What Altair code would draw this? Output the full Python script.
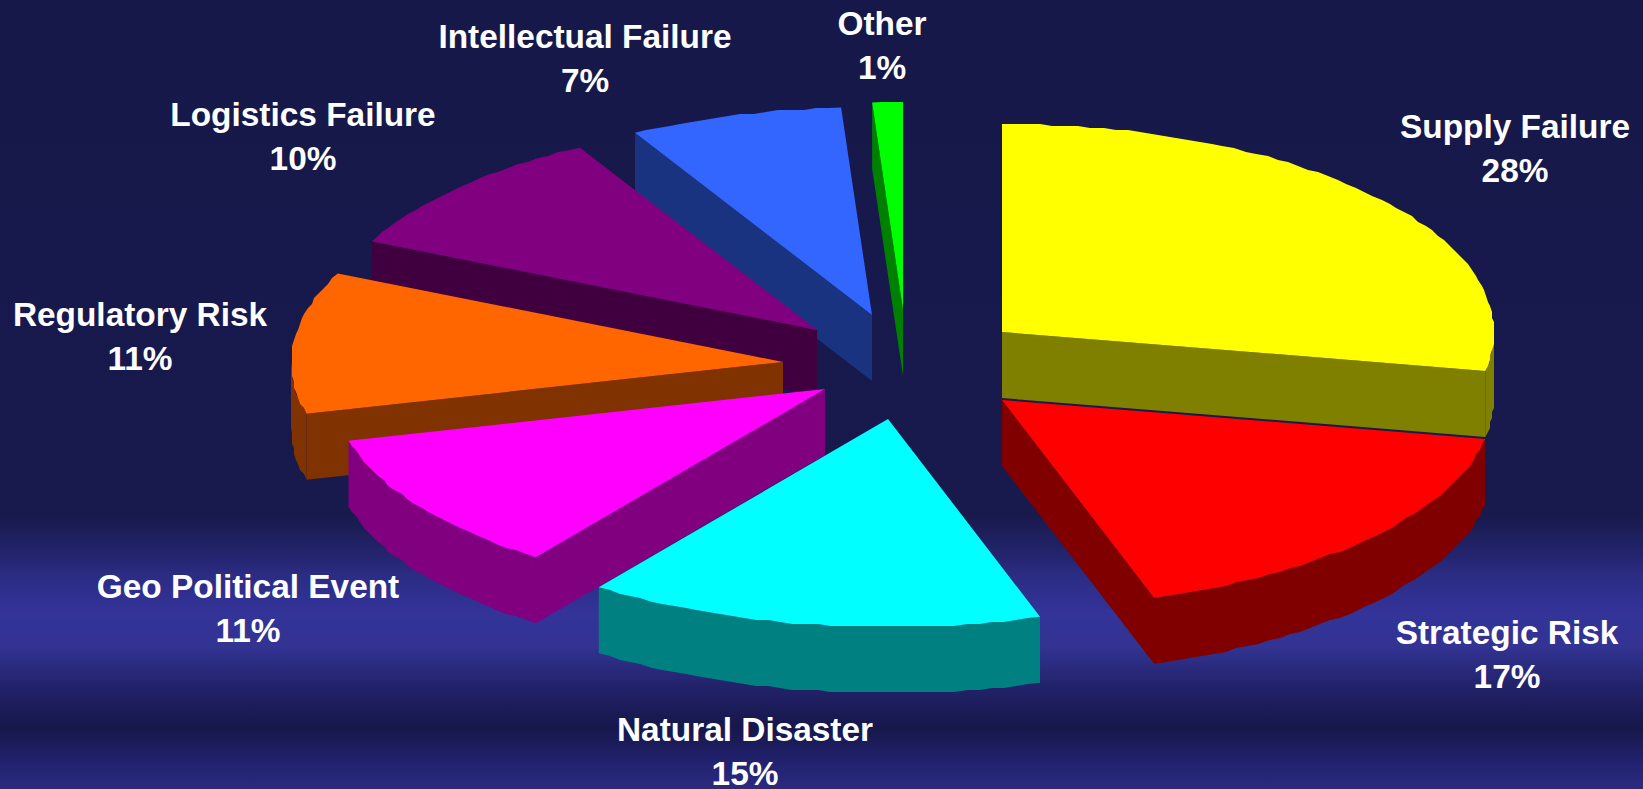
import math

import altair as alt
import pandas as pd

# Slice values, clockwise from twelve o'clock
categories = ["Supply Failure", "Strategic Risk", "Natural Disaster", "Geo Political Event",
              "Regulatory Risk", "Logistics Failure", "Intellectual Failure", "Other"]
shares = [28, 17, 15, 11, 11, 10, 7, 1]
top_colors = ["#FFFF00", "#FF0000", "#00FFFF", "#FF00FF", "#FF6600", "#800080", "#3366FF", "#00FF00"]
side_colors = ["#808000", "#800000", "#008080", "#800080", "#803300", "#400040", "#1A3380", "#008000"]

# Exploded position of each slice's tip, and its label anchor (centre, first baseline)
tips = [(1002, 332), (1002, 400), (888, 419), (825, 389), (783, 362), (817, 330), (872, 315), (903, 310)]
label_anchors = [(1515, 138), (1507, 644), (745, 741), (248, 598), (140, 326), (303, 126), (585, 48), (882, 35)]

# Paint order, back to front
paint_order = [7, 6, 5, 4, 3, 2, 0, 1]

WIDTH, HEIGHT = 1643, 789
RX, RY, DEPTH = 492, 208, 66
GRID = 2       # the rim is drawn on a coarse grid, as low-resolution 3D pies are
LINE_GAP = 44


def rim_point(tip, angle):
    rad = math.radians(angle)
    return tip[0] + RX * math.sin(rad), tip[1] - RY * math.cos(rad)


def rim_arc(tip, a0, a1):
    """Stepped outline of the ellipse between two angles, exact at both ends."""
    n = max(2, int((a1 - a0) / 1.5) + 1)
    pts = [rim_point(tip, a0)]
    for k in range(1, n):
        x, y = rim_point(tip, a0 + (a1 - a0) * k / n)
        pts.append((round(x / GRID) * GRID, round(y / GRID) * GRID))
    pts.append(rim_point(tip, a1))
    return pts


rows = []
poly_id = 0


def add_polygon(points, color):
    global poly_id
    for i, (x, y) in enumerate(points):
        rows.append({"poly": poly_id, "i": i, "x": x, "y": y, "color": color})
    poly_id += 1


edges = [0]
for s in shares:
    edges.append(edges[-1] + s * 3.6)

for idx in paint_order:
    tip, a0, a1 = tips[idx], edges[idx], edges[idx + 1]
    side, top = side_colors[idx], top_colors[idx]
    lowered = lambda pts: [(x, y + DEPTH) for x, y in pts]

    # Radial walls that face the viewer
    if math.sin(math.radians(a0)) < -1e-9:
        wall = [tip, rim_point(tip, a0)]
        add_polygon(wall + lowered(wall)[::-1], side)
    if math.sin(math.radians(a1)) > 1e-9:
        wall = [tip, rim_point(tip, a1)]
        add_polygon(wall + lowered(wall)[::-1], side)

    # Outer wall along the front half of the ellipse
    lo, hi = max(a0, 90), min(a1, 270)
    if lo < hi:
        arc = rim_arc(tip, lo, hi)
        add_polygon(arc + lowered(arc)[::-1], side)

    # Top face
    add_polygon([tip] + rim_arc(tip, a0, a1), top)

polygons = pd.DataFrame(rows)

label_rows = []
for name, share, (lx, ly) in zip(categories, shares, label_anchors):
    label_rows.append({"text": name, "x": lx, "y": ly})
    label_rows.append({"text": f"{share}%", "x": lx, "y": ly + LINE_GAP})
labels = pd.DataFrame(label_rows)

x_scale = alt.Scale(domain=[0, WIDTH], range=[0, WIDTH], nice=False, zero=False)
y_scale = alt.Scale(domain=[0, HEIGHT], range=[0, HEIGHT], nice=False, zero=False)
x_enc = alt.X("x:Q", scale=x_scale, axis=None)
y_enc = alt.Y("y:Q", scale=y_scale, axis=None)

# Banded vertical backdrop
band_stops = [(0, "#17184A"), (515, "#18194C"), (557, "#24256F"), (575, "#2B2C84"), (613, "#333399"),
              (647, "#323392"), (687, "#22226A"), (727, "#16174A"), (763, "#222270"), (789, "#2A2B80")]
backdrop = alt.Chart(pd.DataFrame({"k": [0]})).mark_rect(
    color=alt.LinearGradient(
        gradient="linear", x1=0, x2=0, y1=0, y2=1,
        stops=[alt.GradientStop(offset=y / HEIGHT, color=c) for y, c in band_stops],
    )
).encode(x=alt.value(0), x2=alt.value(WIDTH), y=alt.value(0), y2=alt.value(HEIGHT))

faces = alt.Chart(polygons).mark_line(strokeWidth=0, interpolate="linear").encode(
    x=x_enc,
    y=y_enc,
    detail="poly:N",
    order="i:Q",
    fill=alt.Fill("color:N", scale=None),
)

text = alt.Chart(labels).mark_text(
    font="Liberation Sans", fontWeight="bold", fontSize=33.4, color="#FFFFFF",
    align="center", baseline="alphabetic",
).encode(x=x_enc, y=y_enc, text="text:N")

chart = (
    alt.layer(backdrop, faces, text)
    .properties(width=WIDTH, height=HEIGHT, padding=0, autosize=alt.AutoSizeParams(type="none"),
                background="#17184A")
    .configure_view(strokeWidth=0)
)

chart.save("out.html", embed_options={"renderer": "svg", "actions": False})
